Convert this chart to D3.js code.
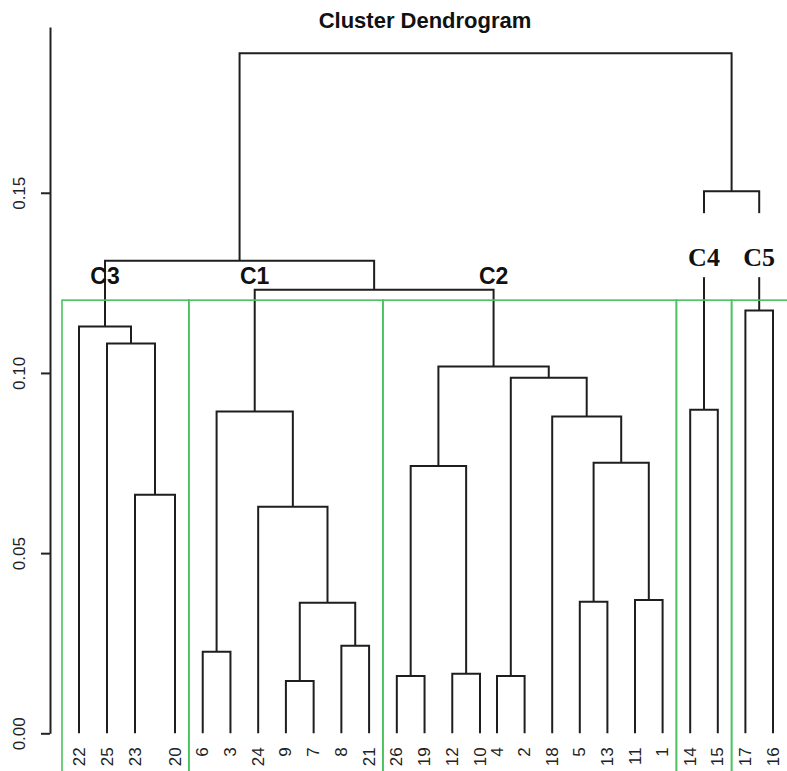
<!DOCTYPE html>
<html>
<head>
<meta charset="utf-8">
<script src="https://cdn.jsdelivr.net/npm/d3@7"></script>
<style>
  body { margin: 0; background: #fff; }
  svg { display: block; }
</style>
</head>
<body>
<svg id="chart" width="787" height="771"></svg>
<script>
// Leaves in plotting order (observation numbers)
const leafOrder = [22, 25, 23, 20, 6, 3, 24, 9, 7, 8, 21, 26, 19, 12, 10, 4, 2, 18, 5, 13, 11, 1, 14, 15, 17, 16];

// hclust-style merge table: negative = leaf, positive = earlier merge (1-based)
const mergeLeft  = [-9, -26, -4, -12, -6, -8, 1, -5, -11, -24, -23, 2, 8, -18, 5, -14, 3, 12, -25, -22, -17, 15, 20, 16, 23];
const mergeRight = [-7, -19, -2, -10, -3, -21, 6, -13, -1, 7, -20, 4, 9, 13, 10, -15, 14, 17, 11, 19, -16, 18, 22, 21, 24];
const mergeHeight = [0.0145, 0.0159, 0.0159, 0.0165, 0.0226, 0.0243, 0.0362, 0.0365, 0.0370, 0.0629,
                     0.0662, 0.0742, 0.0751, 0.0879, 0.0893, 0.0898, 0.0987, 0.1018, 0.1082, 0.1129,
                     0.1173, 0.1231, 0.1311, 0.1504, 0.1887];

// Axis ticks
const yTicks = [0, 0.05, 0.10, 0.15];

// Cut into five groups; group names and the merge that roots each group
const clusterNames = ["C3", "C1", "C2", "C4", "C5"];
const clusterNodes = [20, 15, 18, 16, 21];
const clusterCount = 5;

const title = "Cluster Dendrogram";

const svg = d3.select("#chart");
const W = 787, H = 771;

// Leaf slot -> pixel (piecewise to follow the drawn leaf spacing)
const x = d3.scaleLinear()
  .domain([-0.5, 0, 2, 3, 14, 15, 25, 25.5])
  .range([62, 79, 135, 175, 480, 497, 773, 790]);

const y = d3.scaleLinear()
  .domain([0, 0.196])
  .range([733.3, 27]);

const leafPos = new Map(leafOrder.map((id, i) => [id, i]));

// Node coordinates: leaves at their slot, merges at the midpoint of children
const mergeX = [];
const mergeRange = [];
function childX(c) { return c < 0 ? x(leafPos.get(-c)) : mergeX[c - 1]; }
function childH(c) { return c < 0 ? 0 : mergeHeight[c - 1]; }
function childRange(c) {
  if (c < 0) { const p = leafPos.get(-c); return [p, p]; }
  return mergeRange[c - 1];
}
mergeLeft.forEach((l, i) => {
  const r = mergeRight[i];
  mergeX.push((childX(l) + childX(r)) / 2);
  const a = childRange(l), b = childRange(r);
  mergeRange.push([Math.min(a[0], b[0]), Math.max(a[1], b[1])]);
});

// Title
svg.append("text")
  .attr("x", 425).attr("y", 28)
  .attr("text-anchor", "middle")
  .attr("font-family", "'Liberation Sans', Arial, sans-serif")
  .attr("font-weight", "bold")
  .attr("font-size", 22)
  .attr("fill", "#111")
  .text(title);

// Y axis
const axis = svg.append("g")
  .attr("transform", "translate(50,0)")
  .call(d3.axisLeft(y).tickValues(yTicks).tickSize(9).tickSizeOuter(0).tickFormat(d3.format(".2f")));
axis.attr("font-family", "'Liberation Sans', Arial, sans-serif").attr("font-size", 17);
axis.select(".domain").attr("stroke", "#222").attr("stroke-width", 2);
axis.selectAll(".tick line").attr("stroke", "#222").attr("stroke-width", 2);
axis.selectAll(".tick text")
  .attr("x", null).attr("dy", null)
  .attr("transform", "translate(-31,0) rotate(-90)")
  .attr("text-anchor", "middle")
  .attr("dominant-baseline", "central")
  .attr("fill", "#222");

// Dendrogram branches
const tree = svg.append("g")
  .attr("fill", "none")
  .attr("stroke", "#1e1e1e")
  .attr("stroke-width", 2);

mergeLeft.forEach((l, i) => {
  const r = mergeRight[i];
  const p = d3.path();
  p.moveTo(childX(l), y(childH(l)));
  p.lineTo(childX(l), y(mergeHeight[i]));
  p.lineTo(childX(r), y(mergeHeight[i]));
  p.lineTo(childX(r), y(childH(r)));
  tree.append("path").attr("d", p.toString());
});

// Leaf labels
svg.append("g")
  .attr("font-family", "'Liberation Sans', Arial, sans-serif")
  .attr("font-size", 17)
  .attr("fill", "#222")
  .selectAll("text")
  .data(leafOrder)
  .join("text")
  .attr("transform", d => `translate(${x(leafPos.get(d))},${y(0) + 14}) rotate(-90)`)
  .attr("text-anchor", "end")
  .attr("dominant-baseline", "central")
  .text(d => d);

// Cluster rectangles (as rect.hclust: top halfway between the k-1 and k highest merges)
const sortedH = mergeHeight.slice().sort((a, b) => b - a);
const rectTop = (sortedH[clusterCount - 2] + sortedH[clusterCount - 1]) / 2;
const rects = svg.append("g")
  .attr("fill", "none")
  .attr("stroke", "#48c25e")
  .attr("stroke-width", 1.6);
clusterNodes.forEach(n => {
  const [lo, hi] = mergeRange[n - 1];
  const x0 = x(lo - 0.5), x1 = x(hi + 0.5);
  rects.append("rect")
    .attr("x", x0).attr("y", y(rectTop))
    .attr("width", x1 - x0).attr("height", H + 20 - y(rectTop));
});

// Cluster names; groups on the root's right branch get the larger serif label
const rootRight = mergeRight[mergeRight.length - 1];
function under(node, anc) {
  if (node === anc) return true;
  if (anc < 0) return false;
  return under(node, mergeLeft[anc - 1]) || under(node, mergeRight[anc - 1]);
}
const labelLayer = svg.append("g");
clusterNames.forEach((name, i) => {
  const n = clusterNodes[i];
  const cx = mergeX[n - 1];
  const raised = under(n, rootRight);
  if (raised) {
    const base = y(rectTop) - 34;
    labelLayer.append("rect")
      .attr("x", cx - 5).attr("y", base - 53)
      .attr("width", 10).attr("height", 64)
      .attr("fill", "#fff");
    labelLayer.append("text")
      .attr("x", cx).attr("y", base)
      .attr("text-anchor", "middle")
      .attr("font-family", "'Liberation Serif', 'Times New Roman', serif")
      .attr("font-weight", "bold")
      .attr("font-size", 26)
      .attr("fill", "#111")
      .text(name);
  } else {
    labelLayer.append("text")
      .attr("x", cx).attr("y", y(rectTop) - 16)
      .attr("text-anchor", "middle")
      .attr("font-family", "'Liberation Sans', Arial, sans-serif")
      .attr("font-weight", "bold")
      .attr("font-size", 23)
      .attr("fill", "#111")
      .text(name);
  }
});
</script>
</body>
</html>
